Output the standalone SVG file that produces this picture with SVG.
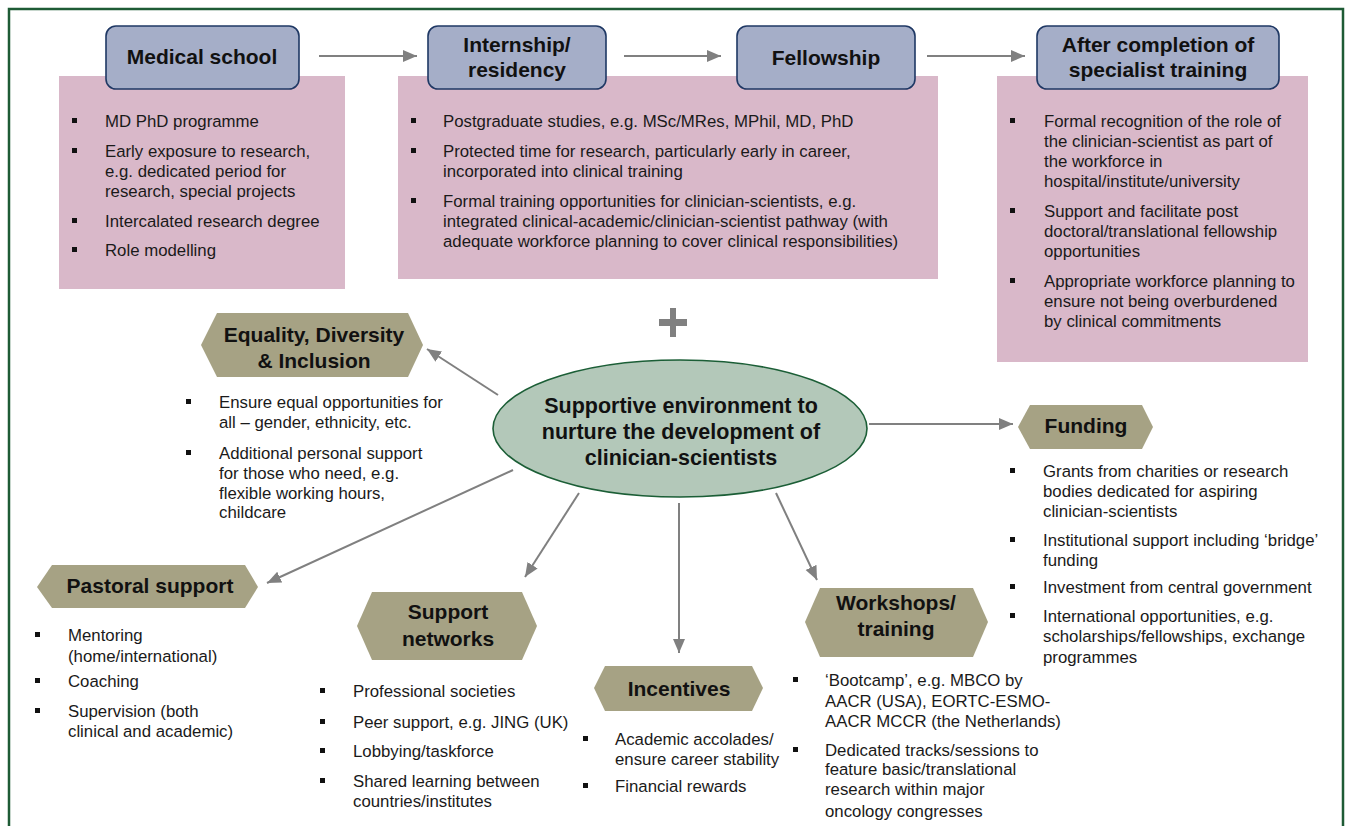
<svg xmlns="http://www.w3.org/2000/svg" width="1346" height="826" viewBox="0 0 1346 826">
<defs>
<style>
.title{font-family:"Liberation Sans",Arial,sans-serif;font-weight:bold;font-size:21px;fill:#111;text-anchor:middle}
.big{font-family:"Liberation Sans",Arial,sans-serif;font-weight:bold;font-size:21.5px;fill:#111;text-anchor:middle}
.body{font-family:"Liberation Sans",Arial,sans-serif;font-size:16.8px;fill:#1a1a1a}
.stage{fill:#a5aec8;stroke:#1f3864;stroke-width:1.6}
.pink{fill:#d9b8c9}
.hex{fill:#a6a284}
.bul{fill:#111}
.conn{stroke:#808080;stroke-width:2;fill:none}
</style>
<marker id="ah" markerUnits="userSpaceOnUse" markerWidth="16" markerHeight="14" refX="14" refY="6" orient="auto">
<path d="M0,0 L14,6 L0,12 z" fill="#808080"/>
</marker>
</defs>
<rect x="0" y="0" width="1346" height="826" fill="#ffffff"/>
<path d="M9,826 V9 H1343 V826" fill="none" stroke="#1e5b35" stroke-width="2.5"/>

<g id="pink-medical">
<rect class="pink" x="59" y="76" width="286" height="213"/>
<g class="bul"><rect x="72" y="118" width="5" height="5"/><rect x="72" y="148" width="5" height="5"/><rect x="72" y="218" width="5" height="5"/><rect x="72" y="247" width="5" height="5"/></g>
<text class="body"><tspan x="105" y="127">MD PhD programme</tspan><tspan x="105" y="157">Early exposure to research,</tspan><tspan x="105" y="177">e.g. dedicated period for</tspan><tspan x="105" y="197">research, special projects</tspan><tspan x="105" y="227">Intercalated research degree</tspan><tspan x="105" y="256">Role modelling</tspan></text>
</g>

<g id="pink-internship">
<rect class="pink" x="398" y="76" width="540" height="203"/>
<g class="bul"><rect x="411" y="118" width="5" height="5"/><rect x="411" y="148" width="5" height="5"/><rect x="411" y="198" width="5" height="5"/></g>
<text class="body"><tspan x="443" y="127">Postgraduate studies, e.g. MSc/MRes, MPhil, MD, PhD</tspan><tspan x="443" y="157">Protected time for research, particularly early in career,</tspan><tspan x="443" y="177">incorporated into clinical training</tspan><tspan x="443" y="207">Formal training opportunities for clinician-scientists, e.g.</tspan><tspan x="443" y="227">integrated clinical-academic/clinician-scientist pathway (with</tspan><tspan x="443" y="247">adequate workforce planning to cover clinical responsibilities)</tspan></text>
</g>

<g id="pink-after">
<rect class="pink" x="997" y="76" width="311" height="286"/>
<g class="bul"><rect x="1010" y="118" width="5" height="5"/><rect x="1010" y="208" width="5" height="5"/><rect x="1010" y="278" width="5" height="5"/></g>
<text class="body"><tspan x="1044" y="127">Formal recognition of the role of</tspan><tspan x="1044" y="147">the clinician-scientist as part of</tspan><tspan x="1044" y="167">the workforce in</tspan><tspan x="1044" y="187">hospital/institute/university</tspan><tspan x="1044" y="217">Support and facilitate post</tspan><tspan x="1044" y="237">doctoral/translational fellowship</tspan><tspan x="1044" y="257">opportunities</tspan><tspan x="1044" y="287">Appropriate workforce planning to</tspan><tspan x="1044" y="307">ensure not being overburdened</tspan><tspan x="1044" y="327">by clinical commitments</tspan></text>
</g>

<g id="medical-school">
<rect class="stage" x="106" y="26" width="193" height="63" rx="10"/>
<text class="title" x="202" y="64">Medical school</text>
</g>
<g id="internship">
<rect class="stage" x="428" y="26" width="178" height="63" rx="10"/>
<text class="title"><tspan x="517" y="52">Internship/</tspan><tspan x="517" y="77">residency</tspan></text>
</g>
<g id="fellowship">
<rect class="stage" x="737" y="26" width="178" height="63" rx="10"/>
<text class="title" x="826" y="65">Fellowship</text>
</g>
<g id="after-completion">
<rect class="stage" x="1037" y="26" width="242" height="63" rx="10"/>
<text class="title"><tspan x="1158" y="52">After completion of</tspan><tspan x="1158" y="77">specialist training</tspan></text>
</g>

<g id="plus">
<rect x="670" y="308" width="6" height="29" fill="#808080"/>
<rect x="659" y="319" width="28" height="7" fill="#808080"/>
</g>

<g id="connectors">
<line class="conn" x1="319" y1="56" x2="417" y2="56" marker-end="url(#ah)"/>
<line class="conn" x1="624" y1="56" x2="721" y2="56" marker-end="url(#ah)"/>
<line class="conn" x1="927" y1="56" x2="1025" y2="56" marker-end="url(#ah)"/>
<line class="conn" x1="498" y1="395" x2="427" y2="349" marker-end="url(#ah)"/>
<line class="conn" x1="869" y1="424" x2="1013" y2="424" marker-end="url(#ah)"/>
<line class="conn" x1="513" y1="470" x2="267" y2="583" marker-end="url(#ah)"/>
<line class="conn" x1="579" y1="493" x2="525" y2="577" marker-end="url(#ah)"/>
<line class="conn" x1="679" y1="503" x2="679" y2="653" marker-end="url(#ah)"/>
<line class="conn" x1="776" y1="493" x2="817" y2="580" marker-end="url(#ah)"/>
</g>

<g id="supportive-environment">
<ellipse cx="680" cy="428.5" rx="187" ry="68.5" fill="#b3c8b9" stroke="#1b5e36" stroke-width="1.6"/>
<text class="big"><tspan x="681" y="413">Supportive environment to</tspan><tspan x="681" y="439">nurture the development of</tspan><tspan x="681" y="465">clinician-scientists</tspan></text>
</g>

<g id="edi">
<polygon class="hex" points="201,345 217,313 408,313 423,345 408,377 217,377"/>
<text class="title"><tspan x="314" y="342">Equality, Diversity</tspan><tspan x="314" y="368">&amp; Inclusion</tspan></text>
<g class="bul"><rect x="186" y="399" width="5" height="5"/><rect x="186" y="450" width="5" height="5"/></g>
<text class="body"><tspan x="219" y="408">Ensure equal opportunities for</tspan><tspan x="219" y="428">all – gender, ethnicity, etc.</tspan><tspan x="219" y="459">Additional personal support</tspan><tspan x="219" y="479">for those who need, e.g.</tspan><tspan x="219" y="499">flexible working hours,</tspan><tspan x="219" y="518">childcare</tspan></text>
</g>

<g id="funding">
<polygon class="hex" points="1018,427 1030,405 1142,405 1153,427 1142,449 1030,449"/>
<text class="title" x="1086" y="433">Funding</text>
<g class="bul"><rect x="1010" y="468" width="5" height="5"/><rect x="1010" y="537" width="5" height="5"/><rect x="1010" y="584" width="5" height="5"/><rect x="1010" y="613" width="5" height="5"/></g>
<text class="body"><tspan x="1043" y="477">Grants from charities or research</tspan><tspan x="1043" y="497">bodies dedicated for aspiring</tspan><tspan x="1043" y="517">clinician-scientists</tspan><tspan x="1043" y="546">Institutional support including ‘bridge’</tspan><tspan x="1043" y="566">funding</tspan><tspan x="1043" y="593">Investment from central government</tspan><tspan x="1043" y="622">International opportunities, e.g.</tspan><tspan x="1043" y="642">scholarships/fellowships, exchange</tspan><tspan x="1043" y="663">programmes</tspan></text>
</g>

<g id="pastoral">
<polygon class="hex" points="37,587 52,565 245,565 258,587 245,608 52,608"/>
<text class="title" x="150" y="593">Pastoral support</text>
<g class="bul"><rect x="35" y="632" width="5" height="5"/><rect x="35" y="678" width="5" height="5"/><rect x="35" y="708" width="5" height="5"/></g>
<text class="body"><tspan x="68" y="641">Mentoring</tspan><tspan x="68" y="662">(home/international)</tspan><tspan x="68" y="687">Coaching</tspan><tspan x="68" y="717">Supervision (both</tspan><tspan x="68" y="737">clinical and academic)</tspan></text>
</g>

<g id="support-networks">
<polygon class="hex" points="357,626 372,592 522,592 537,626 522,660 372,660"/>
<text class="title"><tspan x="448" y="619">Support</tspan><tspan x="448" y="646">networks</tspan></text>
<g class="bul"><rect x="320" y="688" width="5" height="5"/><rect x="320" y="719" width="5" height="5"/><rect x="320" y="748" width="5" height="5"/><rect x="320" y="778" width="5" height="5"/></g>
<text class="body"><tspan x="353" y="697">Professional societies</tspan><tspan x="353" y="728">Peer support, e.g. JING (UK)</tspan><tspan x="353" y="757">Lobbying/taskforce</tspan><tspan x="353" y="787">Shared learning between</tspan><tspan x="353" y="807">countries/institutes</tspan></text>
</g>

<g id="incentives">
<polygon class="hex" points="594,688 605,666 752,666 763,688 752,711 605,711"/>
<text class="title" x="679" y="696">Incentives</text>
<g class="bul"><rect x="583" y="736" width="5" height="5"/><rect x="583" y="783" width="5" height="5"/></g>
<text class="body"><tspan x="615" y="745">Academic accolades/</tspan><tspan x="615" y="765">ensure career stability</tspan><tspan x="615" y="792">Financial rewards</tspan></text>
</g>

<g id="workshops">
<polygon class="hex" points="805,622 820,588 973,588 988,622 973,657 820,657"/>
<text class="title"><tspan x="896" y="610">Workshops/</tspan><tspan x="896" y="636">training</tspan></text>
<g class="bul"><rect x="793" y="677" width="5" height="5"/><rect x="793" y="747" width="5" height="5"/></g>
<text class="body"><tspan x="825" y="686">‘Bootcamp’, e.g. MBCO by</tspan><tspan x="825" y="707">AACR (USA), EORTC-ESMO-</tspan><tspan x="825" y="727">AACR MCCR (the Netherlands)</tspan><tspan x="825" y="756">Dedicated tracks/sessions to</tspan><tspan x="825" y="775">feature basic/translational</tspan><tspan x="825" y="795">research within major</tspan><tspan x="825" y="817">oncology congresses</tspan></text>
</g>
</svg>
